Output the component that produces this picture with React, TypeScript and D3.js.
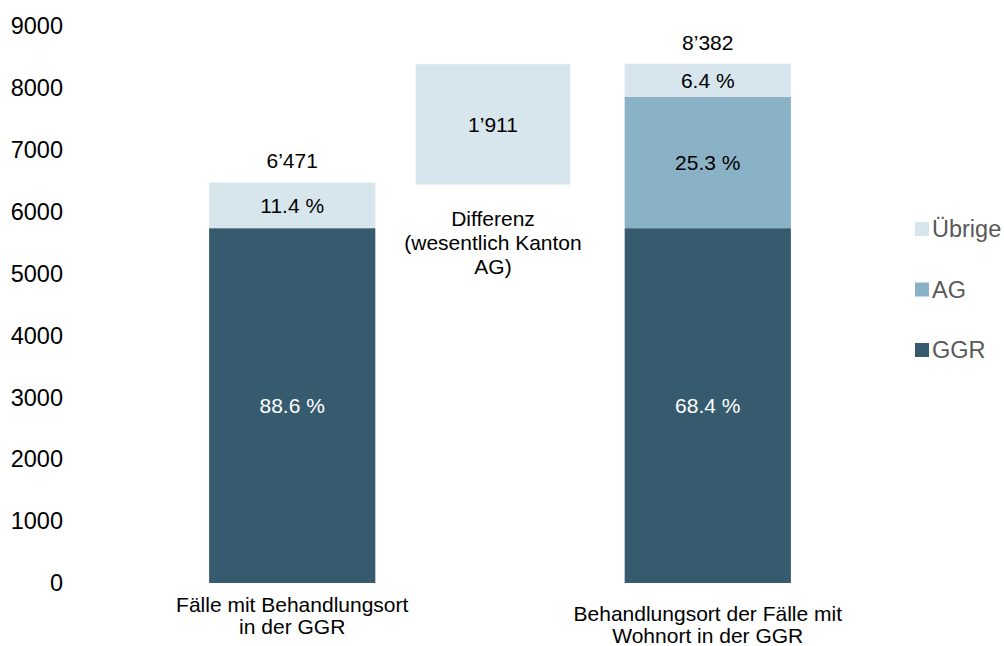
import React, {useRef, useEffect} from 'react';
import * as d3 from 'd3';

// categories (two stacked bars) and the gap box between them
const categories = ['GGR_ort', 'GGR_wohn'];
const categoryLabels = [
    ['Fälle mit Behandlungsort', 'in der GGR'],
    ['Behandlungsort der Fälle mit', 'Wohnort in der GGR'],
];
const totals = [6471, 8382];
const totalLabels = ['6’471', '8’382'];

// series shares in percent, per category
const seriesKeys = ['GGR', 'AG', 'Übrige'];
const ggrShare = [88.6, 68.4];
const agShare = [0, 25.3];
const uebrigeShare = [11.4, 6.4];

const diffValue = 1911;
const diffLabel = '1’911';
const diffText = ['Differenz', '(wesentlich Kanton', 'AG)'];

const yTicks = [0, 1000, 2000, 3000, 4000, 5000, 6000, 7000, 8000, 9000];

const colors: Record<string, string> = {
    'GGR': '#365b6e',
    'AG': '#8ab2c7',
    'Übrige': '#d7e5ed',
};
const legendOrder = ['Übrige', 'AG', 'GGR'];

const FONT = 'Arial, "Liberation Sans", sans-serif';

export default function App(){
    const canvasRef = useRef<SVGSVGElement>(null);

    useEffect(() => {
        const svg = d3.select(canvasRef.current);
        svg.selectAll('*').remove();

        const yScale = d3.scaleLinear().domain([0, 9000]).range([583, 26]);
        const xScale = d3.scaleBand<string>()
            .domain(categories)
            .range([126, 874])
            .paddingInner(0.6)
            .paddingOuter(0.2);
        const bw = xScale.bandwidth();

        // stacked data in absolute values
        const rows = categories.map((c, i) => ({
            cat: c,
            GGR: totals[i] * ggrShare[i] / 100,
            AG: totals[i] * agShare[i] / 100,
            'Übrige': totals[i] * uebrigeShare[i] / 100,
        }));
        const shares: Record<string, number[]> = {GGR: ggrShare, AG: agShare, 'Übrige': uebrigeShare};
        const stack = d3.stack<any>().keys(seriesKeys)(rows);

        const g = svg.append('g');

        // y tick labels, no axis lines
        g.append('g').selectAll('text')
            .data(yTicks)
            .join('text')
            .attr('x', 63)
            .attr('y', d => yScale(d))
            .attr('dy', '0.35em')
            .attr('text-anchor', 'end')
            .attr('font-size', 23.5)
            .attr('fill', '#000')
            .text(d => d);

        // bars
        stack.forEach(layer => {
            const key = layer.key;
            const lg = g.append('g');
            layer.forEach((d, i) => {
                if(d[1] - d[0] <= 0) return;
                const x = xScale(categories[i])!;
                lg.append('rect')
                    .attr('x', x)
                    .attr('width', bw)
                    .attr('y', yScale(d[1]))
                    .attr('height', yScale(d[0]) - yScale(d[1]))
                    .attr('fill', colors[key]);
                lg.append('text')
                    .attr('x', x + bw / 2)
                    .attr('y', (yScale(d[0]) + yScale(d[1])) / 2)
                    .attr('dy', '0.35em')
                    .attr('text-anchor', 'middle')
                    .attr('font-size', 21)
                    .attr('fill', key === 'GGR' ? '#fff' : '#000')
                    .text(`${shares[key][i].toFixed(1)} %`);
            });
        });

        // totals above bars
        g.append('g').selectAll('text')
            .data(categories)
            .join('text')
            .attr('x', d => xScale(d)! + bw / 2)
            .attr('y', (d, i) => yScale(totals[i]) - 22)
            .attr('dy', '0.35em')
            .attr('text-anchor', 'middle')
            .attr('font-size', 21)
            .text((d, i) => totalLabels[i]);

        // difference box between the bars
        const x1 = xScale(categories[0])! + bw;
        const x2 = xScale(categories[1])!;
        const diffW = bw * 0.93;
        const diffX = (x1 + x2) / 2 - 7 - diffW / 2;
        const diffTop = yScale(totals[0] + diffValue);
        const diffBottom = yScale(totals[0]) + 2;
        g.append('rect')
            .attr('x', diffX)
            .attr('y', diffTop)
            .attr('width', diffW)
            .attr('height', diffBottom - diffTop)
            .attr('fill', colors['Übrige']);
        g.append('text')
            .attr('x', diffX + diffW / 2)
            .attr('y', (diffTop + diffBottom) / 2)
            .attr('dy', '0.35em')
            .attr('text-anchor', 'middle')
            .attr('font-size', 21)
            .text(diffLabel);
        g.append('g').selectAll('text')
            .data(diffText)
            .join('text')
            .attr('x', diffX + diffW / 2)
            .attr('y', (d, i) => diffBottom + 34 + i * 24)
            .attr('dy', '0.35em')
            .attr('text-anchor', 'middle')
            .attr('font-size', 21)
            .text(d => d);

        // category labels
        categoryLabels.forEach((lines, i) => {
            g.append('g').selectAll('text')
                .data(lines)
                .join('text')
                .attr('x', xScale(categories[i])! + bw / 2)
                .attr('y', (d, j) => yScale(0) + (i === 0 ? 22 : 31) + j * 22)
                .attr('dy', '0.35em')
                .attr('text-anchor', 'middle')
                .attr('font-size', 21)
                .text(d => d);
        });

        // legend
        const legend = g.append('g');
        legendOrder.forEach((k, i) => {
            const ly = 229 + i * 60.5;
            legend.append('rect')
                .attr('x', 915)
                .attr('y', ly - 7)
                .attr('width', 14)
                .attr('height', 14)
                .attr('fill', colors[k]);
            legend.append('text')
                .attr('x', 932)
                .attr('y', ly)
                .attr('dy', '0.35em')
                .attr('font-size', 23.5)
                .attr('fill', '#595959')
                .text(k);
        });
    });

    return(
        <div style={{position: 'absolute', left: 0, top: 0, width: 1004, height: 646}}>
            <svg ref={canvasRef} width={1004} height={646}
                style={{display: 'block', fontFamily: FONT}} />
        </div>
    );
}
